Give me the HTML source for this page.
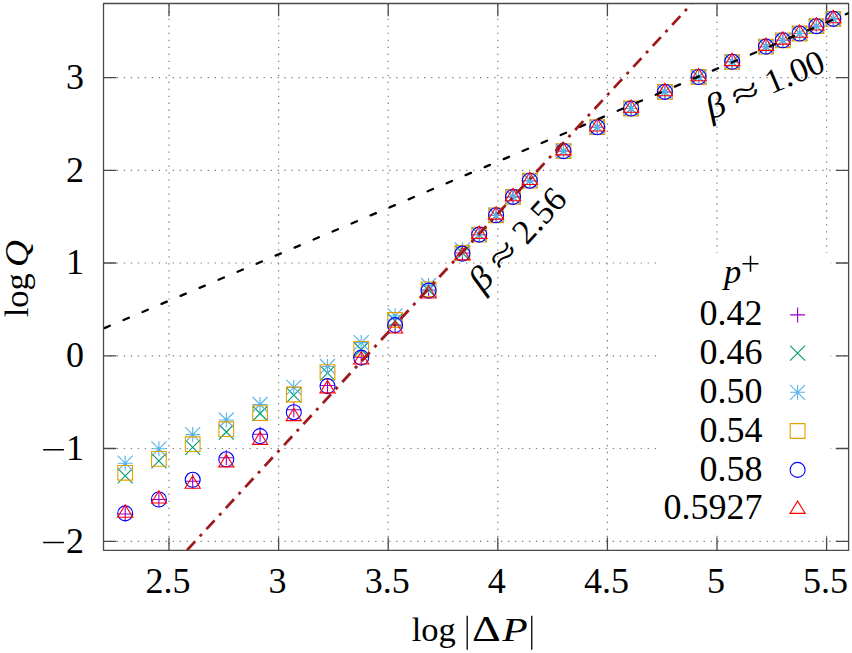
<!DOCTYPE html><html><head><meta charset="utf-8"><style>html,body{margin:0;padding:0;background:#fff;}svg{display:block}</style></head><body>
<svg width="852" height="653" viewBox="0 0 852 653">
<rect x="0" y="0" width="852" height="653" fill="#fff"/>
<g stroke="#7a7a7a" stroke-width="1.2" stroke-dasharray="1.3 5.685" stroke-dashoffset="0.65" fill="none">
<line x1="103.5" y1="77.6" x2="848.6" y2="77.6"/>
<line x1="103.5" y1="170.3" x2="848.6" y2="170.3"/>
<line x1="103.5" y1="263.0" x2="659.0" y2="263.0"/>
<line x1="830.7" y1="263.0" x2="848.6" y2="263.0"/>
<line x1="103.5" y1="355.8" x2="659.0" y2="355.8"/>
<line x1="830.7" y1="355.8" x2="848.6" y2="355.8"/>
<line x1="103.5" y1="448.5" x2="659.0" y2="448.5"/>
<line x1="830.7" y1="448.5" x2="848.6" y2="448.5"/>
<line x1="103.5" y1="541.3" x2="848.6" y2="541.3"/>
<line x1="169.0" y1="550.3" x2="169.0" y2="3.5"/>
<line x1="278.6" y1="550.3" x2="278.6" y2="3.5"/>
<line x1="388.2" y1="550.3" x2="388.2" y2="3.5"/>
<line x1="497.8" y1="550.3" x2="497.8" y2="3.5"/>
<line x1="607.4" y1="550.3" x2="607.4" y2="3.5"/>
<line x1="717.0" y1="550.3" x2="717.0" y2="533.0"/>
<line x1="717.0" y1="252.9" x2="717.0" y2="3.5"/>
<line x1="826.6" y1="550.3" x2="826.6" y2="533.0"/>
<line x1="826.6" y1="252.9" x2="826.6" y2="3.5"/>
</g>
<g stroke="#4a4a4a" stroke-width="1.3" fill="none" stroke-linecap="butt">
<path d="M103.5,3.5H848.6V550.3H103.5Z" stroke-linejoin="round"/>
<path d="M103.5,77.6h12.8M848.6,77.6h-12.8M103.5,170.3h12.8M848.6,170.3h-12.8M103.5,263.0h12.8M848.6,263.0h-12.8M103.5,355.8h12.8M848.6,355.8h-12.8M103.5,448.5h12.8M848.6,448.5h-12.8M103.5,541.3h12.8M848.6,541.3h-12.8M169.0,550.3v-12.8M169.0,3.5v12.8M278.6,550.3v-12.8M278.6,3.5v12.8M388.2,550.3v-12.8M388.2,3.5v12.8M497.8,550.3v-12.8M497.8,3.5v12.8M607.4,550.3v-12.8M607.4,3.5v12.8M717.0,550.3v-12.8M717.0,3.5v12.8M826.6,550.3v-12.8M826.6,3.5v12.8"/>
</g>
<path d="M117.70,514.00h15.0M125.20,506.50v15.0M151.40,499.50h15.0M158.90,492.00v15.0M185.20,481.30h15.0M192.70,473.80v15.0M218.80,457.70h15.0M226.30,450.20v15.0M252.60,434.30h15.0M260.10,426.80v15.0M286.30,409.80h15.0M293.80,402.30v15.0M320.00,385.50h15.0M327.50,378.00v15.0M353.70,357.30h15.0M361.20,349.80v15.0M387.60,325.00h15.0M395.10,317.50v15.0M421.10,290.00h15.0M428.60,282.50v15.0M454.90,253.00h15.0M462.40,245.50v15.0M471.70,234.60h15.0M479.20,227.10v15.0M488.60,215.30h15.0M496.10,207.80v15.0M505.50,196.90h15.0M513.00,189.40v15.0M522.30,180.70h15.0M529.80,173.20v15.0M556.00,151.10h15.0M563.50,143.60v15.0M589.80,127.20h15.0M597.30,119.70v15.0M623.60,108.50h15.0M631.10,101.00v15.0M657.40,91.90h15.0M664.90,84.40v15.0M691.10,77.00h15.0M698.60,69.50v15.0M724.70,61.80h15.0M732.20,54.30v15.0M758.50,46.60h15.0M766.00,39.10v15.0M775.30,40.30h15.0M782.80,32.80v15.0M792.10,33.50h15.0M799.60,26.00v15.0M808.90,26.20h15.0M816.40,18.70v15.0M825.80,18.90h15.0M833.30,11.40v15.0" stroke="#9400d3" stroke-width="1.1" fill="none"/>
<path d="M117.70,468.30l15.0,15.0M117.70,483.30l15.0,-15.0M151.40,453.30l15.0,15.0M151.40,468.30l15.0,-15.0M185.20,439.80l15.0,15.0M185.20,454.80l15.0,-15.0M218.80,424.50l15.0,15.0M218.80,439.50l15.0,-15.0M252.60,406.00l15.0,15.0M252.60,421.00l15.0,-15.0M286.30,387.60l15.0,15.0M286.30,402.60l15.0,-15.0M320.00,365.70l15.0,15.0M320.00,380.70l15.0,-15.0M353.70,342.00l15.0,15.0M353.70,357.00l15.0,-15.0M387.60,313.50l15.0,15.0M387.60,328.50l15.0,-15.0M421.10,282.50l15.0,15.0M421.10,297.50l15.0,-15.0M454.90,245.50l15.0,15.0M454.90,260.50l15.0,-15.0M471.70,227.10l15.0,15.0M471.70,242.10l15.0,-15.0M488.60,207.80l15.0,15.0M488.60,222.80l15.0,-15.0M505.50,189.40l15.0,15.0M505.50,204.40l15.0,-15.0M522.30,173.20l15.0,15.0M522.30,188.20l15.0,-15.0M556.00,143.60l15.0,15.0M556.00,158.60l15.0,-15.0M589.80,119.70l15.0,15.0M589.80,134.70l15.0,-15.0M623.60,101.00l15.0,15.0M623.60,116.00l15.0,-15.0M657.40,84.40l15.0,15.0M657.40,99.40l15.0,-15.0M691.10,69.50l15.0,15.0M691.10,84.50l15.0,-15.0M724.70,54.30l15.0,15.0M724.70,69.30l15.0,-15.0M758.50,39.10l15.0,15.0M758.50,54.10l15.0,-15.0M775.30,32.80l15.0,15.0M775.30,47.80l15.0,-15.0M792.10,26.00l15.0,15.0M792.10,41.00l15.0,-15.0M808.90,18.70l15.0,15.0M808.90,33.70l15.0,-15.0M825.80,11.40l15.0,15.0M825.80,26.40l15.0,-15.0" stroke="#009e73" stroke-width="1.1" fill="none"/>
<path d="M117.70,463.20h15.0M125.20,455.70v15.0M117.70,455.70l15.0,15.0M117.70,470.70l15.0,-15.0M151.40,448.80h15.0M158.90,441.30v15.0M151.40,441.30l15.0,15.0M151.40,456.30l15.0,-15.0M185.20,434.60h15.0M192.70,427.10v15.0M185.20,427.10l15.0,15.0M185.20,442.10l15.0,-15.0M218.80,420.00h15.0M226.30,412.50v15.0M218.80,412.50l15.0,15.0M218.80,427.50l15.0,-15.0M252.60,404.50h15.0M260.10,397.00v15.0M252.60,397.00l15.0,15.0M252.60,412.00l15.0,-15.0M286.30,387.40h15.0M293.80,379.90v15.0M286.30,379.90l15.0,15.0M286.30,394.90l15.0,-15.0M320.00,366.50h15.0M327.50,359.00v15.0M320.00,359.00l15.0,15.0M320.00,374.00l15.0,-15.0M353.70,342.60h15.0M361.20,335.10v15.0M353.70,335.10l15.0,15.0M353.70,350.10l15.0,-15.0M387.60,315.80h15.0M395.10,308.30v15.0M387.60,308.30l15.0,15.0M387.60,323.30l15.0,-15.0M421.10,285.50h15.0M428.60,278.00v15.0M421.10,278.00l15.0,15.0M421.10,293.00l15.0,-15.0M454.90,250.00h15.0M462.40,242.50v15.0M454.90,242.50l15.0,15.0M454.90,257.50l15.0,-15.0M471.70,234.60h15.0M479.20,227.10v15.0M471.70,227.10l15.0,15.0M471.70,242.10l15.0,-15.0M488.60,215.30h15.0M496.10,207.80v15.0M488.60,207.80l15.0,15.0M488.60,222.80l15.0,-15.0M505.50,196.90h15.0M513.00,189.40v15.0M505.50,189.40l15.0,15.0M505.50,204.40l15.0,-15.0M522.30,180.70h15.0M529.80,173.20v15.0M522.30,173.20l15.0,15.0M522.30,188.20l15.0,-15.0M556.00,151.10h15.0M563.50,143.60v15.0M556.00,143.60l15.0,15.0M556.00,158.60l15.0,-15.0M589.80,127.20h15.0M597.30,119.70v15.0M589.80,119.70l15.0,15.0M589.80,134.70l15.0,-15.0M623.60,108.50h15.0M631.10,101.00v15.0M623.60,101.00l15.0,15.0M623.60,116.00l15.0,-15.0M657.40,91.90h15.0M664.90,84.40v15.0M657.40,84.40l15.0,15.0M657.40,99.40l15.0,-15.0M691.10,77.00h15.0M698.60,69.50v15.0M691.10,69.50l15.0,15.0M691.10,84.50l15.0,-15.0M724.70,61.80h15.0M732.20,54.30v15.0M724.70,54.30l15.0,15.0M724.70,69.30l15.0,-15.0M758.50,46.60h15.0M766.00,39.10v15.0M758.50,39.10l15.0,15.0M758.50,54.10l15.0,-15.0M775.30,40.30h15.0M782.80,32.80v15.0M775.30,32.80l15.0,15.0M775.30,47.80l15.0,-15.0M792.10,33.50h15.0M799.60,26.00v15.0M792.10,26.00l15.0,15.0M792.10,41.00l15.0,-15.0M808.90,26.20h15.0M816.40,18.70v15.0M808.90,18.70l15.0,15.0M808.90,33.70l15.0,-15.0M825.80,18.90h15.0M833.30,11.40v15.0M825.80,11.40l15.0,15.0M825.80,26.40l15.0,-15.0" stroke="#56b4e9" stroke-width="1.1" fill="none"/>
<path d="M117.85,465.45h14.7v14.7h-14.7ZM151.55,451.55h14.7v14.7h-14.7ZM185.35,436.85h14.7v14.7h-14.7ZM218.95,421.85h14.7v14.7h-14.7ZM252.75,405.75h14.7v14.7h-14.7ZM286.45,387.15h14.7v14.7h-14.7ZM320.15,364.75h14.7v14.7h-14.7ZM353.85,341.55h14.7v14.7h-14.7ZM387.75,312.65h14.7v14.7h-14.7ZM421.25,281.95h14.7v14.7h-14.7ZM455.05,245.65h14.7v14.7h-14.7ZM471.85,227.25h14.7v14.7h-14.7ZM488.75,207.95h14.7v14.7h-14.7ZM505.65,189.55h14.7v14.7h-14.7ZM522.45,173.35h14.7v14.7h-14.7ZM556.15,143.75h14.7v14.7h-14.7ZM589.95,119.85h14.7v14.7h-14.7ZM623.75,101.15h14.7v14.7h-14.7ZM657.55,84.55h14.7v14.7h-14.7ZM691.25,69.65h14.7v14.7h-14.7ZM724.85,54.45h14.7v14.7h-14.7ZM758.65,39.25h14.7v14.7h-14.7ZM775.45,32.95h14.7v14.7h-14.7ZM792.25,26.15h14.7v14.7h-14.7ZM809.05,18.85h14.7v14.7h-14.7ZM825.95,11.55h14.7v14.7h-14.7Z" stroke="#e69f00" stroke-width="1.1" fill="none"/>
<path d="M117.70,513.40a7.5,7.5 0 1,0 15.0,0a7.5,7.5 0 1,0 -15.0,0ZM151.40,499.50a7.5,7.5 0 1,0 15.0,0a7.5,7.5 0 1,0 -15.0,0ZM185.20,479.80a7.5,7.5 0 1,0 15.0,0a7.5,7.5 0 1,0 -15.0,0ZM218.80,459.30a7.5,7.5 0 1,0 15.0,0a7.5,7.5 0 1,0 -15.0,0ZM252.60,436.10a7.5,7.5 0 1,0 15.0,0a7.5,7.5 0 1,0 -15.0,0ZM286.30,412.20a7.5,7.5 0 1,0 15.0,0a7.5,7.5 0 1,0 -15.0,0ZM320.00,386.10a7.5,7.5 0 1,0 15.0,0a7.5,7.5 0 1,0 -15.0,0ZM353.70,357.60a7.5,7.5 0 1,0 15.0,0a7.5,7.5 0 1,0 -15.0,0ZM387.60,325.10a7.5,7.5 0 1,0 15.0,0a7.5,7.5 0 1,0 -15.0,0ZM421.10,290.60a7.5,7.5 0 1,0 15.0,0a7.5,7.5 0 1,0 -15.0,0ZM454.90,253.60a7.5,7.5 0 1,0 15.0,0a7.5,7.5 0 1,0 -15.0,0ZM471.70,234.60a7.5,7.5 0 1,0 15.0,0a7.5,7.5 0 1,0 -15.0,0ZM488.60,215.30a7.5,7.5 0 1,0 15.0,0a7.5,7.5 0 1,0 -15.0,0ZM505.50,196.90a7.5,7.5 0 1,0 15.0,0a7.5,7.5 0 1,0 -15.0,0ZM522.30,180.70a7.5,7.5 0 1,0 15.0,0a7.5,7.5 0 1,0 -15.0,0ZM556.00,151.10a7.5,7.5 0 1,0 15.0,0a7.5,7.5 0 1,0 -15.0,0ZM589.80,127.20a7.5,7.5 0 1,0 15.0,0a7.5,7.5 0 1,0 -15.0,0ZM623.60,108.50a7.5,7.5 0 1,0 15.0,0a7.5,7.5 0 1,0 -15.0,0ZM657.40,91.90a7.5,7.5 0 1,0 15.0,0a7.5,7.5 0 1,0 -15.0,0ZM691.10,77.00a7.5,7.5 0 1,0 15.0,0a7.5,7.5 0 1,0 -15.0,0ZM724.70,61.80a7.5,7.5 0 1,0 15.0,0a7.5,7.5 0 1,0 -15.0,0ZM758.50,46.60a7.5,7.5 0 1,0 15.0,0a7.5,7.5 0 1,0 -15.0,0ZM775.30,40.30a7.5,7.5 0 1,0 15.0,0a7.5,7.5 0 1,0 -15.0,0ZM792.10,33.50a7.5,7.5 0 1,0 15.0,0a7.5,7.5 0 1,0 -15.0,0ZM808.90,26.20a7.5,7.5 0 1,0 15.0,0a7.5,7.5 0 1,0 -15.0,0ZM825.80,18.90a7.5,7.5 0 1,0 15.0,0a7.5,7.5 0 1,0 -15.0,0Z" stroke="#0000ff" stroke-width="1.1" fill="none"/>
<path d="M125.20,504.89L132.80,517.20H117.60ZM158.90,490.69L166.50,503.00H151.30ZM192.70,475.99L200.30,488.30H185.10ZM226.30,454.59L233.90,466.90H218.70ZM260.10,432.09L267.70,444.40H252.50ZM293.80,408.29L301.40,420.60H286.20ZM327.50,380.59L335.10,392.90H319.90ZM361.20,351.69L368.80,364.00H353.60ZM395.10,320.69L402.70,333.00H387.50ZM428.60,285.69L436.20,298.00H421.00ZM462.40,247.49L470.00,259.80H454.80ZM479.20,226.09L486.80,238.40H471.60ZM496.10,206.79L503.70,219.10H488.50ZM513.00,188.39L520.60,200.70H505.40ZM529.80,172.19L537.40,184.50H522.20ZM563.50,142.59L571.10,154.90H555.90ZM597.30,118.69L604.90,131.00H589.70ZM631.10,99.99L638.70,112.30H623.50ZM664.90,83.39L672.50,95.70H657.30ZM698.60,68.49L706.20,80.80H691.00ZM732.20,53.29L739.80,65.60H724.60ZM766.00,38.09L773.60,50.40H758.40ZM782.80,31.79L790.40,44.10H775.20ZM799.60,24.99L807.20,37.30H792.00ZM816.40,17.69L824.00,30.00H808.80ZM833.30,10.39L840.90,22.70H825.70Z" stroke="#ff0000" stroke-width="1.1" fill="none"/>
<clipPath id="pc"><rect x="103.5" y="3.5" width="745.1" height="546.8"/></clipPath>
<g clip-path="url(#pc)">
<line x1="103.5" y1="328.5" x2="848.6" y2="13.05" stroke="#000" stroke-width="2.3" stroke-linecap="round" stroke-dasharray="5.8 14.84" stroke-dashoffset="-1.1"/>
<line x1="186.9" y1="550.3" x2="691.9" y2="3.5" stroke="#9e1a1a" stroke-width="2.8" stroke-dasharray="12 6.8 3 6.8" stroke-dashoffset="-0.2"/>
</g>
<path d="M790.10,314.90h15.0M797.60,307.40v15.0" stroke="#9400d3" stroke-width="1.1" fill="none"/>
<path d="M790.10,345.70l15.0,15.0M790.10,360.70l15.0,-15.0" stroke="#009e73" stroke-width="1.1" fill="none"/>
<path d="M790.10,392.30h15.0M797.60,384.80v15.0M790.10,384.80l15.0,15.0M790.10,399.80l15.0,-15.0" stroke="#56b4e9" stroke-width="1.1" fill="none"/>
<path d="M790.25,423.65h14.7v14.7h-14.7Z" stroke="#e69f00" stroke-width="1.1" fill="none"/>
<path d="M790.10,469.90a7.5,7.5 0 1,0 15.0,0a7.5,7.5 0 1,0 -15.0,0Z" stroke="#0000ff" stroke-width="1.1" fill="none"/>
<path d="M797.60,501.09L805.20,513.40H790.00Z" stroke="#ff0000" stroke-width="1.1" fill="none"/>
<g style="font-family:'Liberation Serif',serif" font-size="36" fill="#000">
<text x="762.5" y="325.1" text-anchor="end">0.42</text>
<text x="762.5" y="364.0" text-anchor="end">0.46</text>
<text x="762.5" y="402.8" text-anchor="end">0.50</text>
<text x="762.5" y="441.7" text-anchor="end">0.54</text>
<text x="762.5" y="480.5" text-anchor="end">0.58</text>
<text x="762.5" y="519.4" text-anchor="end">0.5927</text>
<text x="724" y="282.8" font-size="34.5" font-style="italic">p</text>
</g>
<path d="M742.5,263.7h16M750.5,255.7v16" stroke="#000" stroke-width="1.5" fill="none"/>
<g style="font-family:'Liberation Serif',serif" font-size="36" fill="#000">
<text x="84" y="88.9" text-anchor="end">3</text>
<text x="84" y="181.6" text-anchor="end">2</text>
<text x="84" y="274.3" text-anchor="end">1</text>
<text x="84" y="367.1" text-anchor="end">0</text>
<text x="84" y="459.8" text-anchor="end">1</text>
<text x="84" y="552.6" text-anchor="end">2</text>
<text x="168.0" y="593.3" text-anchor="middle">2.5</text>
<text x="277.6" y="593.3" text-anchor="middle">3</text>
<text x="387.2" y="593.3" text-anchor="middle">3.5</text>
<text x="496.8" y="593.3" text-anchor="middle">4</text>
<text x="606.4" y="593.3" text-anchor="middle">4.5</text>
<text x="716.0" y="593.3" text-anchor="middle">5</text>
<text x="825.6" y="593.3" text-anchor="middle">5.5</text>
</g>
<path d="M43.2,449.8H63.9M43.2,542.6H63.9" stroke="#000" stroke-width="1.5" fill="none"/>
<g style="font-family:'Liberation Serif',serif" fill="#000">
<text x="411.70" y="641.10" font-size="34.5">log</text>
<text transform="translate(472.00,641.10) scale(1.281,1)" font-size="34.8">Δ</text>
<text transform="translate(502.22,641.10) scale(1.207,1)" font-size="34.5" font-style="italic">P</text>
</g>
<path d="M467.2,615.7V649.7M531.75,615.7V649.7" stroke="#000" stroke-width="1.3" fill="none"/>
<g style="font-family:'Liberation Serif',serif" fill="#000" transform="translate(27.7,317.3) rotate(-90)">
<text x="0.00" y="0.00" font-size="34.5">log</text>
<text transform="translate(50.25,0.00) scale(1.077,1)" font-size="34.5" font-style="italic">Q</text>
</g>
<g style="font-family:'Liberation Serif',serif" fill="#000" transform="translate(540.4,228.4) rotate(-47.3)">
<text transform="translate(-86.98,1.73) scale(1.104,1)" font-size="34.5" font-style="italic">β</text>
<text transform="translate(-58.64,1.73) scale(1.466,1)" font-size="34.5">≈</text>
<text x="-22.05" y="1.73" font-size="34.5">2</text>
<text x="-4.31" y="1.73" font-size="34.5">.</text>
<text x="4.80" y="1.73" font-size="34.5">5</text>
<text x="22.05" y="1.73" font-size="34.5">6</text>
</g>
<g style="font-family:'Liberation Serif',serif" fill="#000" transform="translate(790.3,84.2) rotate(-23.0)">
<text transform="translate(-86.98,1.73) scale(1.104,1)" font-size="34.5" font-style="italic">β</text>
<text transform="translate(-58.64,1.73) scale(1.466,1)" font-size="34.5">≈</text>
<text x="-22.05" y="1.73" font-size="34.5">1</text>
<text x="-4.31" y="1.73" font-size="34.5">.</text>
<text x="4.80" y="1.73" font-size="34.5">0</text>
<text x="22.05" y="1.73" font-size="34.5">0</text>
</g>
</svg></body></html>
